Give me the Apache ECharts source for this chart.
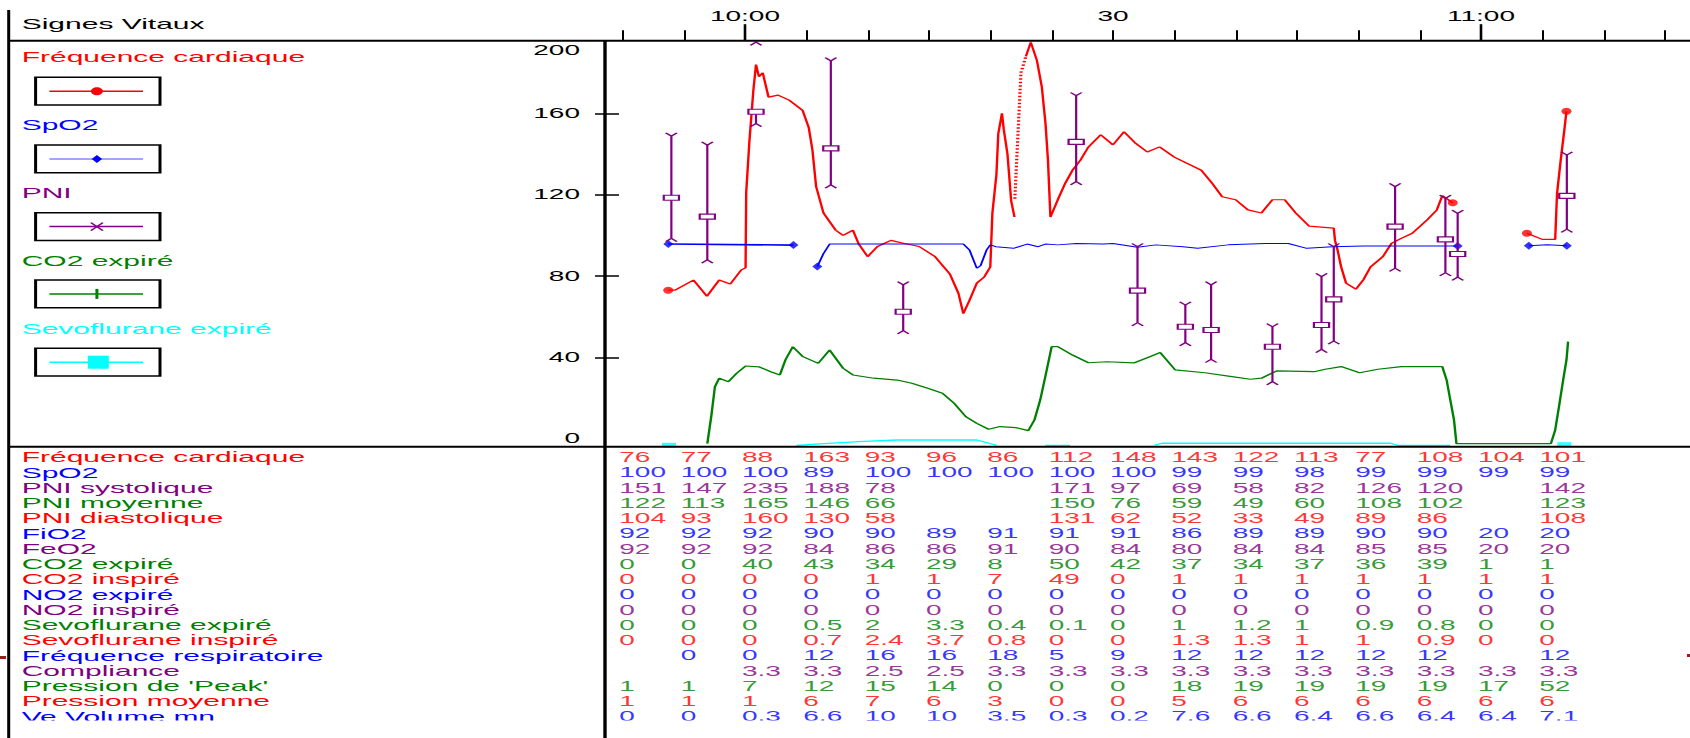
<!DOCTYPE html>
<html><head><meta charset="utf-8">
<script src="https://cdn.jsdelivr.net/npm/echarts@6/dist/echarts.min.js"></script>
<style>
html,body{margin:0;padding:0;background:#fff;overflow:hidden;width:1690px;height:738px;}
#chart{width:845px;height:738px;transform:scaleX(2);transform-origin:0 0;}
</style></head><body><div id="chart"></div>
<script>
// ---------- DATA (time = minutes relative to 10:00) ----------
const timeTickValues = [-10,-5,0,5,10,15,20,25,30,35,40,45,50,55,60,65,70,75];
const timeMajorTicks = [0,60];
const timeLabelValues = [0,30,60];
const timeLabelTexts = ['10:00','30','11:00'];
const yLabelValues = [0,40,80,120,160];
const yTickValues = [40,80,120,160];
const yTopLabel = '200';

// Fréquence cardiaque (null = gap in recording, 'dotted' = bridged by heartRateDotted)
const heartRate = [[-6.25,73],[-5.7,73],[-4.2,78],[-3.1,70],[-2.1,78],[-1.2,76],[-0.3,83],[0.05,84],[0.1,121],[0.36,146],[0.68,171],[0.9,184],[1.14,178],[1.45,180],[1.92,168],[2.7,169],[3.6,166.5],[4.7,161.5],[5.2,153],[5.5,142],[5.8,124],[6.4,111],[7.4,102.5],[8.0,100],[8.8,102.5],[9.25,96],[10.0,89.5],[10.8,94.5],[11.9,97.5],[13.0,96],[14.2,94.5],[15.5,89.5],[16.7,81],[17.4,71.5],[17.8,61.5],[18.3,68],[18.9,76.5],[19.5,79.5],[20.0,84.5],[20.17,111],[20.5,130],[20.65,150],[20.95,160],[21.1,152],[21.4,140],[21.7,117],[21.97,109],
  'dotted',
  [22.9,188],[23.3,195],[23.8,186],[24.2,173],[24.5,155],[24.7,137],[24.9,109],[25.5,117.5],[26.1,125.5],[26.7,132],[27.35,137],[28.0,143.5],[29.0,149.5],[30.0,144.5],[30.9,151],[31.8,145.5],[32.8,141],[33.8,143.5],[35.0,138.5],[37.2,132],[38.1,125.5],[38.9,119],[40.0,117.5],[41.0,112.5],[42.1,111],[43.0,117.5],[44.0,117.5],[44.9,111],[46.0,104.5],[48.0,103.5],[48.1,97.5],[48.3,93],[48.6,84.5],[49.0,76.5],[49.8,73.5],[50.4,78],[51.0,84.5],[52.0,89.5],[52.7,96],[53.5,98.5],[54.4,101],[55.6,107.5],[56.4,112.5],[56.85,119.5],[57.7,116],
  null,
  [63.75,101],[65.0,98],[66.05,98],[66.2,120.5],[66.5,137],[66.8,152],[66.97,161]];
const heartRateDotted = [[22.0,118],[22.2,143],[22.5,180],[22.9,188]];

// SpO2
const spo2 = [[-6.25,95.7],[3.95,95.2],
  null,
  [5.9,84.6],[6.4,91],[6.9,95.7],[17.8,95.7],[18.3,92.8],[18.9,83.8],[19.2,85],[19.7,92.8],[20.0,95.3],[20.45,94.4],[21.9,93.6],[23.0,95.7],[23.9,94.4],[24.5,95.7],[25.5,95.3],[27.0,96],[29.2,95.7],[30.0,96],[32.0,94.1],[33.5,95.3],[35.7,94.4],[36.9,93.6],[39.4,95.3],[42.4,96],[44.3,96],[45.8,93.6],[47.9,94.4],[50.4,94.8],[58.1,94.8],
  null,
  [63.9,94.9],[65.4,95.3],[67.0,94.9]];

// PNI : [time, systolique, moyenne, diastolique]
const pni = [[-6.0,148.8,118.5,98.5],[-3.07,144.4,109.2,87.9],[0.9,235,160.8,155],[7.0,185.8,142.8,124.8],[12.9,75.6,62.4,53.1],[27.0,168.7,146,126.4],[32.0,94.4,72.8,57],[35.9,65.7,55,47.2],[38.0,75.6,53.4,39],[43.0,55,45.2,28],[47.0,79.7,55.9,43.9],[48.0,94.4,68.5,48],[53.0,124,104.3,83.8],[57.1,118.2,98,81.6],[58.1,110.8,90.8,79.4],[67.0,139.5,119.4,103]];

// CO2 expiré
const co2 = [[-3.07,-2.5],[-2.75,10.8],[-2.45,25.5],[-2.1,29.7],[-1.35,28],[-0.7,32],[0.05,35.7],[1.14,35.3],[2.1,32.9],[2.85,31.3],[3.3,38.7],[3.9,45.2],[4.73,40.3],[5.97,37],[6.9,43.6],[8.0,34.6],[8.8,31.3],[10.5,29.7],[12.4,28.8],[13.6,27.2],[14.9,24.7],[16.1,22.3],[17.05,17.4],[18.0,10.8],[18.9,7.5],[19.86,4.6],[20.8,5.9],[22.06,5.4],[23.1,3.9],[23.6,9.2],[24.07,19],[24.54,32],[25.0,45.2],[25.5,45.2],[26.7,41.1],[28.0,37.3],[29.5,37.8],[31.7,37.2],[33.0,40.3],[33.85,42.3],[35.07,33.8],[37.5,32.4],[39.7,30.5],[41.2,29.2],[42.1,29.7],[43.35,33.3],[46.4,32.9],[47.3,34.1],[48.6,35.4],[50.1,32.4],[51.6,34.1],[53.5,35.4],[56.85,35.4],[57.2,28.8],[57.5,19],[57.8,9.2],[58.0,-2.5],[65.7,-2.5],[66.05,4.2],[66.36,15.7],[66.7,28.8],[66.97,38.7],[67.1,47.7]];

// Sevoflurane expiré
const sevo = [[4.2,-3.3],[6.1,-2.6],[9.25,-1.5],[12.4,-0.7],[18.9,-0.7],[20.5,-3.3],
  null,
  [24.5,-3.3],[26.5,-3.3],
  null,
  [33.4,-3.3],[34.0,-2.3],[52.6,-2.3],[53.2,-3.3],[57.5,-3.3]];
const sevoMarks = [[-6.2,-3.3],[66.8,-3.0]];

// Table
const tableCols = [-10,-5,0,5,10,15,20,25,30,35,40,45,50,55,60,65];
const rowNames = ['Fréquence cardiaque','SpO2','PNI systolique','PNI moyenne','PNI diastolique','FiO2','FeO2','CO2 expiré','CO2 inspiré','NO2 expiré','NO2 inspiré','Sevoflurane expiré','Sevoflurane inspiré','Fréquence respiratoire','Compliance',"Pression de 'Peak'",'Pression moyenne','Ve Volume mn'];
const rowFC   = [76,77,88,163,93,96,86,112,148,143,122,113,77,108,104,101];
const rowSpO2 = [100,100,100,89,100,100,100,100,100,99,99,98,99,99,99,99];
const rowSys  = [151,147,235,188,78,null,null,171,97,69,58,82,126,120,null,142];
const rowMoy  = [122,113,165,146,66,null,null,150,76,59,49,60,108,102,null,123];
const rowDia  = [104,93,160,130,58,null,null,131,62,52,33,49,89,86,null,108];
const rowFiO2 = [92,92,92,90,90,89,91,91,91,86,89,89,90,90,20,20];
const rowFeO2 = [92,92,92,84,86,86,91,90,84,80,84,84,85,85,20,20];
const rowCO2e = [0,0,40,43,34,29,8,50,42,37,34,37,36,39,1,1];
const rowCO2i = [0,0,0,0,1,1,7,49,0,1,1,1,1,1,1,1];
const rowNO2e = [0,0,0,0,0,0,0,0,0,0,0,0,0,0,0,0];
const rowNO2i = [0,0,0,0,0,0,0,0,0,0,0,0,0,0,0,0];
const rowSevE = [0,0,0,0.5,2,3.3,0.4,0.1,0,1,1.2,1,0.9,0.8,0,0];
const rowSevI = [0,0,0,0.7,2.4,3.7,0.8,0,0,1.3,1.3,1,1,0.9,0,0];
const rowFR   = [null,0,0,12,16,16,18,5,9,12,12,12,12,12,null,12];
const rowComp = [null,null,3.3,3.3,2.5,2.5,3.3,3.3,3.3,3.3,3.3,3.3,3.3,3.3,3.3,3.3];
const rowPeak = [1,1,7,12,15,14,0,0,0,18,19,19,19,19,17,52];
const rowPmoy = [1,1,1,6,7,6,3,0,0,5,6,6,6,6,6,6];
const rowVe   = [0,0,0.3,6.6,10,10,3.5,0.3,0.2,7.6,6.6,6.4,6.6,6.4,6.4,7.1];
const tableRows = [rowFC,rowSpO2,rowSys,rowMoy,rowDia,rowFiO2,rowFeO2,rowCO2e,rowCO2i,rowNO2e,rowNO2i,rowSevE,rowSevI,rowFR,rowComp,rowPeak,rowPmoy,rowVe];

// ---------- STYLE ----------
const RED='#FF0000', BLUE='#0000FF', PURPLE='#800080', GREEN='#008000', CYAN='#00FFFF';
const rowPalette=[RED,BLUE,PURPLE,GREEN];
const FONT='"Liberation Sans", Arial, sans-serif';
const X = v => v/2;              // page px -> chart px (chart is stretched 2x horizontally)
const XMIN=-11.41, XMAX=77.04, YMIN=-4, YMAX=196;

// split on separators
function splitOn(arr,isSep){const out=[];let cur=[];arr.forEach(p=>{if(isSep(p)){if(cur.length)out.push(cur);cur=[];}else cur.push(p);});if(cur.length)out.push(cur);return out;}
const segments = arr => splitOn(arr,p=>p===null||p==='dotted');          // solid pieces
const runs = arr => splitOn(arr,p=>p===null).map(r=>r.filter(p=>p!=='dotted')); // recording runs
function ends(arr){const o=[];runs(arr).forEach(s=>{o.push(s[0]);o.push(s[s.length-1]);});return o;}

const series=[];
segments(heartRate).forEach(s=>series.push({type:'line',data:s,showSymbol:false,lineStyle:{color:RED,width:1.2},xAxisIndex:0,yAxisIndex:0,z:4,animation:false}));
series.push({type:'line',data:heartRateDotted,showSymbol:false,lineStyle:{color:RED,width:1.6,type:[1.5,2]},xAxisIndex:0,yAxisIndex:0,z:4,animation:false});
series.push({type:'scatter',data:ends(heartRate),symbol:'circle',symbolSize:[5,7],itemStyle:{color:RED},xAxisIndex:0,yAxisIndex:0,z:5,animation:false});
segments(spo2).forEach((s,i)=>series.push({type:'line',data:s,showSymbol:false,lineStyle:{color:BLUE,width:i===0?1.6:1},xAxisIndex:0,yAxisIndex:0,z:4,animation:false}));
series.push({type:'scatter',data:ends(spo2),symbol:'diamond',symbolSize:[5,8],itemStyle:{color:BLUE},xAxisIndex:0,yAxisIndex:0,z:5,animation:false});
series.push({type:'line',data:co2,showSymbol:false,lineStyle:{color:GREEN,width:1.2},xAxisIndex:0,yAxisIndex:0,z:3,animation:false});
segments(sevo).forEach(s=>series.push({type:'line',data:s,showSymbol:false,lineStyle:{color:CYAN,width:1.3},xAxisIndex:0,yAxisIndex:0,z:3,animation:false}));
series.push({type:'scatter',data:sevoMarks,symbol:'rect',symbolSize:[7,5],itemStyle:{color:CYAN},xAxisIndex:0,yAxisIndex:0,z:3,animation:false});
series.push({type:'custom',data:pni,xAxisIndex:0,yAxisIndex:0,z:6,clip:true,animation:false,encode:{x:0,y:[1,2,3]},
  renderItem:function(params,api){
    const t=api.value(0),sys=api.value(1),mean=api.value(2),dia=api.value(3);
    const over=sys>YMAX;
    const pD=api.coord([t,dia]),pM=api.coord([t,mean]),pS=api.coord([t,over?YMAX:sys]);
    const x=pD[0],w=2.8,h=3.2,bw=3.8,bh=2.5;
    const st={stroke:PURPLE,lineWidth:1.1,fill:null};
    const ch=[];
    ch.push({type:'line',shape:{x1:x,y1:pD[1],x2:x,y2:over?pM[1]:pS[1]},style:st});
    ch.push({type:'polyline',shape:{points:[[x-w,pD[1]+h],[x,pD[1]],[x+w,pD[1]+h]]},style:st});
    if(!over) ch.push({type:'polyline',shape:{points:[[x-w,pS[1]-h],[x,pS[1]],[x+w,pS[1]-h]]},style:st});
    else ch.push({type:'polyline',shape:{points:[[x-w,pS[1]+h+2],[x,pS[1]+2],[x+w,pS[1]+h+2]]},style:st});
    ch.push({type:'rect',shape:{x:x-bw,y:pM[1]-bh,width:2*bw,height:2*bh},style:{stroke:PURPLE,lineWidth:1.1,fill:'#fff'}});
    return {type:'group',children:ch};
  }});
// table
const tableData=[];
tableRows.forEach((row,r)=>row.forEach((v,c)=>{if(v!==null&&v!==undefined)tableData.push({value:[tableCols[c],rowNames[r],v],label:{color:rowPalette[r%4]}});}));
series.push({type:'scatter',data:tableData,xAxisIndex:2,yAxisIndex:2,symbolSize:0,animation:false,
  label:{show:true,position:'right',distance:0,offset:[-1.5,0],fontFamily:FONT,fontSize:14,formatter:p=>String(p.value[2])}});

// ---------- GRAPHIC (frame & legend) ----------
const g=[];
const L=(x1,y1,x2,y2,w,c,z)=>g.push({type:'line',z:z||10,shape:{x1,y1,x2,y2},style:{stroke:c||'#000',lineWidth:w}});
const T=(text,x,y,color,size,align)=>g.push({type:'text',z:12,x,y,style:{text,fill:color,font:size+'px '+FONT,textAlign:align||'left',textVerticalAlign:'middle',align:align||'left',verticalAlign:'middle'}});
// mask bottom of last row (clipped in original)
g.push({type:'rect',z:9,shape:{x:X(11),y:720.5,width:845,height:20},style:{fill:'#fff'}});
L(X(8.7),10,X(8.7),738,1.5);
L(X(8.7),40.7,845,40.7,2);
L(X(8.7),446.7,845,446.7,2);
L(X(605),40.7,X(605),738,1.7);
g.push({type:'rect',z:10,shape:{x:0,y:656,width:3,height:3},style:{fill:'#9B1B1B'}});
g.push({type:'rect',z:10,shape:{x:843.5,y:654,width:1.5,height:3},style:{fill:'#9B1B1B'}});
T('Signes Vitaux',X(21.7),24,'#000',15);
T(yTopLabel,X(580),50.6,'#000',14,'right');
const legendNames=['Fréquence cardiaque','SpO2','PNI','CO2 expiré','Sevoflurane expiré'];
const legendColors=[RED,BLUE,PURPLE,GREEN,CYAN];
const legTextY=[57.3,125,193.3,261,329.3];
const boxY=[77.3,145,212.7,280,348.3];
legendNames.forEach((n,i)=>{
  T(n,X(21.7),legTextY[i],legendColors[i],15);
  g.push({type:'rect',z:10,shape:{x:X(35.6),y:boxY[i],width:X(160-35.6),height:27.7},style:{stroke:'#000',lineWidth:1.5,fill:null}});
  const cy=boxY[i]+13.9, cx=X(96.9);
  L(X(49.4),cy,X(143),cy,i===1?1:1.5,i===1?'#4A4AFF':legendColors[i]);
  if(i===0){g.push({type:'ellipse',z:11,shape:{cx,cy,rx:3,ry:4},style:{fill:RED}});}
  if(i===1){g.push({type:'polygon',z:11,shape:{points:[[cx-2.6,cy],[cx,cy-4],[cx+2.6,cy],[cx,cy+4]]},style:{fill:BLUE}});}
  if(i===2){L(cx-3,cy-4,cx+3,cy+4,1,PURPLE,11);L(cx-3,cy+4,cx+3,cy-4,1,PURPLE,11);}
  if(i===3){L(cx,cy-5,cx,cy+5,1.5,GREEN,11);}
  if(i===4){g.push({type:'rect',z:11,shape:{x:X(87.8),y:cy-6.5,width:X(21),height:13},style:{fill:CYAN}});}
});

// ---------- CHART ----------
const chart=echarts.init(document.getElementById('chart'),null,{renderer:'svg'});
chart.setOption({
  animation:false,
  backgroundColor:'#fff',
  textStyle:{fontFamily:FONT},
  grid:[{left:X(605),right:0,top:40.2,bottom:738-446.7},{left:X(605),right:0,top:449.7,height:274.6}],
  xAxis:[
    {gridIndex:0,type:'value',min:XMIN,max:XMAX,position:'top',axisLine:{show:true,onZero:false,lineStyle:{color:'#000',width:1}},
     axisTick:{show:true,customValues:timeTickValues,length:10,lineStyle:{color:'#000',width:1}},
     axisLabel:{show:true,customValues:timeLabelValues,margin:17,color:'#000',fontSize:14,fontFamily:FONT,formatter:v=>{const i=timeLabelValues.indexOf(v);return i>=0?timeLabelTexts[i]:'';}},
     splitLine:{show:false}},
    {gridIndex:0,type:'value',min:XMIN,max:XMAX,position:'top',axisLine:{show:false,onZero:false},
     axisTick:{show:true,customValues:timeMajorTicks,length:16,lineStyle:{color:'#000',width:1.3}},axisLabel:{show:false},splitLine:{show:false}},
    {gridIndex:1,type:'value',min:XMIN,max:XMAX,show:false,axisLine:{onZero:false},splitLine:{show:false}}
  ],
  yAxis:[
    {gridIndex:0,type:'value',min:YMIN,max:YMAX,position:'left',axisLine:{show:false,onZero:false},
     axisTick:{show:true,customValues:yTickValues,length:5,lineStyle:{color:'#000',width:1.5}},
     axisLabel:{show:true,customValues:yLabelValues,margin:12.5,color:'#000',fontSize:14,fontFamily:FONT},splitLine:{show:false}},
    {gridIndex:0,type:'value',min:YMIN,max:YMAX,position:'left',axisLine:{show:false,onZero:false},
     axisTick:{show:true,inside:true,customValues:yTickValues,length:7,lineStyle:{color:'#000',width:1.5}},axisLabel:{show:false},splitLine:{show:false}},
    {gridIndex:1,type:'category',data:rowNames,inverse:true,axisLine:{show:false,onZero:false},axisTick:{show:false},splitLine:{show:false},
     axisLabel:{show:true,interval:0,hideOverlap:false,align:'left',margin:X(605)-X(21.7),fontSize:15,fontFamily:FONT,color:(v,i)=>rowPalette[rowNames.indexOf(v)%4]}}
  ],
  graphic:{elements:g},
  series:series
});
</script></body></html>
